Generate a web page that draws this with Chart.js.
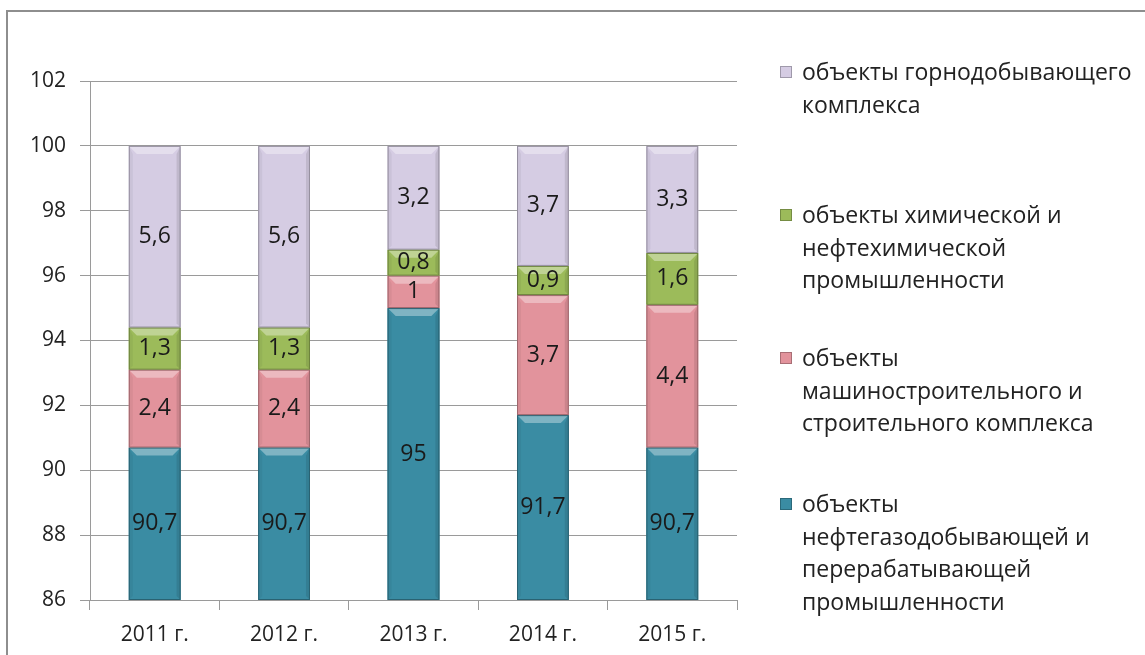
<!DOCTYPE html>
<html lang="ru">
  <head>
    <meta charset="UTF-8" />
    <title>Структура объектов</title>
    <script src="https://cdn.jsdelivr.net/npm/chart.js@4"></script>
    <style>
      html, body { margin: 0; padding: 0; background: #fff; }
      .wrap { position: relative; width: 1145px; height: 655px; overflow: hidden; font-family: "Open Sans", sans-serif; }
      .frame { position: absolute; left: 6px; top: 10px; width: 1200px; height: 700px; border-left: 2px solid #8e8e8e; border-top: 2px solid #8e8e8e; }
      canvas { position: absolute; left: 0; top: 0; }
      #legend { position: absolute; left: 778px; top: 0; width: 367px; }
      .item { position: absolute; left: 0; width: 365px; font-size: 23px; line-height: 32.5px; color: #222; padding-left: 24px; white-space: nowrap; }
      .item i { position: absolute; left: 2px; top: 11px; width: 12px; height: 12px; box-sizing: border-box; border: 1px solid rgba(0,0,0,0.25); }
    </style>
  </head>
  <body>
    <div class="wrap">
      <div class="frame"></div>
      <canvas id="chart" width="1145" height="655"></canvas>
      <div id="legend"></div>
    </div>
    <script>
      const years = ["2011 г.", "2012 г.", "2013 г.", "2014 г.", "2015 г."];
      const oilGas = [90.7, 90.7, 95, 91.7, 90.7];
      const machine = [2.4, 2.4, 1, 3.7, 4.4];
      const chemical = [1.3, 1.3, 0.8, 0.9, 1.6];
      const mining = [5.6, 5.6, 3.2, 3.7, 3.3];
      const yMin = 86;
      const yMax = 102;
      const yStep = 2;

      const series = [
        { label: "объекты нефтегазодобывающей и перерабатывающей промышленности", data: oilGas, color: "#3a8ca3", lines: ["объекты", "нефтегазодобывающей и", "перерабатывающей", "промышленности"] },
        { label: "объекты машиностроительного и строительного комплекса", data: machine, color: "#e2939c", lines: ["объекты", "машиностроительного и", "строительного комплекса"] },
        { label: "объекты химической и нефтехимической промышленности", data: chemical, color: "#9cbb5a", lines: ["объекты химической и", "нефтехимической", "промышленности"] },
        { label: "объекты горнодобывающего комплекса", data: mining, color: "#d5cce3", lines: ["объекты горнодобывающего", "комплекса"] },
      ];

      function shade(hex, f) {
        const n = parseInt(hex.slice(1), 16);
        let r = (n >> 16) & 255, g = (n >> 8) & 255, b = n & 255;
        if (f > 0) { r += (255 - r) * f; g += (255 - g) * f; b += (255 - b) * f; }
        else { r *= 1 + f; g *= 1 + f; b *= 1 + f; }
        return "rgb(" + Math.round(r) + "," + Math.round(g) + "," + Math.round(b) + ")";
      }

      // bevel look + value labels, clipped to the visible part of each bar
      const bevelLabels = {
        id: "bevelLabels",
        afterDatasetsDraw(chart) {
          const ctx = chart.ctx;
          const area = chart.chartArea;
          ctx.save();
          ctx.beginPath();
          ctx.rect(area.left, area.top, area.right - area.left, area.bottom - area.top);
          ctx.clip();
          chart.data.datasets.forEach((ds, i) => {
            chart.getDatasetMeta(i).data.forEach((bar) => {
              const left = bar.x - bar.width / 2;
              const right = bar.x + bar.width / 2;
              const top = bar.y;
              const bottom = Math.min(bar.base, area.bottom);
              const b = 8;
              const col = ds.backgroundColor;
              ctx.fillStyle = shade(col, 0.35);
              ctx.beginPath();
              ctx.moveTo(left, top); ctx.lineTo(right, top);
              ctx.lineTo(right - b, top + b); ctx.lineTo(left + b, top + b);
              ctx.closePath(); ctx.fill();
              ctx.fillStyle = shade(col, -0.1);
              ctx.beginPath();
              ctx.moveTo(right, top); ctx.lineTo(right, bottom);
              ctx.lineTo(right - 4, bottom - 4); ctx.lineTo(right - 4, top + b);
              ctx.closePath(); ctx.fill();
              ctx.fillStyle = shade(col, -0.05);
              ctx.beginPath();
              ctx.moveTo(left, top); ctx.lineTo(left, bottom);
              ctx.lineTo(left + 4, bottom - 4); ctx.lineTo(left + 4, top + b);
              ctx.closePath(); ctx.fill();
              ctx.strokeStyle = shade(col, -0.3);
              ctx.lineWidth = 1;
              ctx.strokeRect(left + 0.5, top + 0.5, bar.width - 1, bottom - top - 1);
            });
          });
          ctx.restore();

          ctx.save();
          ctx.font = "23px 'Open Sans', sans-serif";
          ctx.fillStyle = "#1a1a1a";
          ctx.textAlign = "center";
          ctx.textBaseline = "middle";
          chart.data.datasets.forEach((ds, i) => {
            chart.getDatasetMeta(i).data.forEach((bar, j) => {
              const bottom = Math.min(bar.base, area.bottom);
              const cy = (bar.y + bottom) / 2;
              ctx.fillText(String(ds.data[j]).replace(".", ","), bar.x, cy);
            });
          });
          ctx.restore();
        },
      };

      const ctx = document.getElementById("chart").getContext("2d");
      new Chart(ctx, {
        type: "bar",
        data: {
          labels: years,
          datasets: series.map((s) => ({
            label: s.label,
            data: s.data,
            backgroundColor: s.color,
            borderWidth: 0,
            barPercentage: 0.4,
            categoryPercentage: 1,
          })),
        },
        options: {
          responsive: false,
          animation: false,
          layout: { padding: { left: 10, right: 408, top: 81, bottom: 0 } },
          plugins: { legend: { display: false }, tooltip: { enabled: false } },
          scales: {
            x: {
              stacked: true,
              grid: { display: true, drawOnChartArea: false, offset: true, color: "#9a9a9a", tickLength: 10 },
              border: { color: "#9a9a9a", width: 1 },
              ticks: { color: "#222", font: { family: "'Open Sans', sans-serif", size: 21 }, padding: 12 },
              afterFit(scale) { scale.height = 55; },
            },
            y: {
              stacked: true,
              min: yMin,
              max: yMax,
              ticks: { stepSize: yStep, color: "#222", font: { family: "'Open Sans', sans-serif", size: 21 }, padding: 14 },
              grid: { color: "#9a9a9a", tickLength: 10 },
              border: { color: "#9a9a9a", width: 1 },
              afterFit(scale) { scale.width = 80; },
            },
          },
        },
        plugins: [bevelLabels],
      });

      // legend, listed top-down in reverse stack order
      const legend = document.getElementById("legend");
      const tops = [55, 198, 341, 487];
      series.slice().reverse().forEach((s, k) => {
        const div = document.createElement("div");
        div.className = "item";
        div.style.top = tops[k] + "px";
        const mark = document.createElement("i");
        mark.style.background = s.color;
        div.appendChild(mark);
        s.lines.forEach((line, n) => {
          if (n) div.appendChild(document.createElement("br"));
          div.appendChild(document.createTextNode(line));
        });
        legend.appendChild(div);
      });
    </script>
  </body>
</html>
